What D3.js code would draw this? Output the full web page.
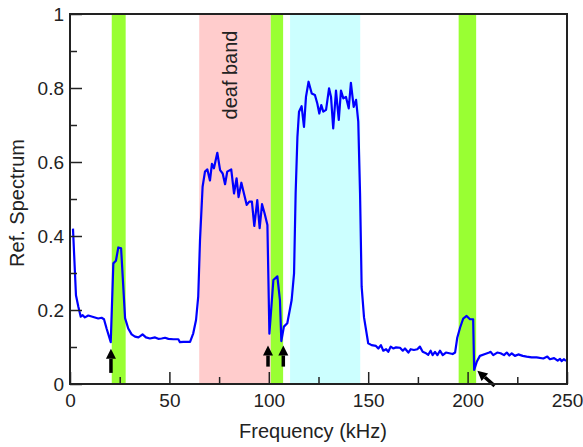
<!DOCTYPE html>
<html>
<head>
<meta charset="utf-8">
<script src="https://cdn.jsdelivr.net/npm/d3@7"></script>
<style>
  body { margin: 0; background: #fff; }
  text { font-family: "Liberation Sans", Arial, Helvetica, sans-serif; fill: #222; }
</style>
</head>
<body>
<div id="chart"></div>
<script>
// spectrum: [frequency kHz, ref. spectrum]
const spectrum = [
  [1.5,0.42],[3,0.24],[4.2,0.209],[5.4,0.182],[6.4,0.186],[7.5,0.18],[9.2,0.185],[11.7,0.181],
  [14.2,0.177],[15.9,0.179],[17.1,0.175],[18.4,0.15],[20.5,0.113],[21.8,0.326],[23.1,0.333],
  [24.3,0.369],[25.7,0.367],[27.7,0.178],[29.3,0.15],[31,0.134],[32.7,0.128],[34.4,0.126],
  [35.5,0.13],[36.5,0.134],[38.2,0.126],[40.2,0.123],[42.8,0.126],[44.4,0.122],[46.1,0.123],
  [47.8,0.125],[49.5,0.122],[52,0.121],[54.5,0.121],[55.3,0.113],[57,0.114],[60.4,0.114],
  [62,0.137],[63.4,0.173],[64.5,0.236],[65.4,0.389],[66.7,0.533],[67.9,0.574],[69.1,0.58],
  [70.4,0.55],[71.4,0.595],[72.4,0.583],[74.1,0.625],[75.5,0.578],[76.8,0.569],[78,0.54],
  [79.1,0.574],[81.1,0.58],[82.5,0.515],[83.8,0.556],[84.8,0.505],[86.2,0.544],[87.5,0.515],
  [88.9,0.484],[90.2,0.493],[91.5,0.493],[92.7,0.427],[94.2,0.497],[95.4,0.421],[96.6,0.486],
  [97.9,0.461],[99.3,0.43],[100.3,0.136],[102.3,0.281],[104.3,0.291],[105.6,0.227],[106.3,0.116],
  [107.6,0.155],[109.3,0.164],[111.5,0.227],[112.7,0.299],[113.5,0.515],[114.4,0.668],
  [115.2,0.736],[116.5,0.751],[117.7,0.695],[118.7,0.776],[120,0.817],[121.6,0.785],
  [123.2,0.781],[124.4,0.758],[125.4,0.731],[126.4,0.754],[127.4,0.736],[128.8,0.741],
  [130.3,0.799],[131.3,0.776],[132.4,0.691],[133.8,0.793],[135.2,0.714],[136.3,0.793],
  [137.5,0.772],[138.8,0.776],[140.2,0.745],[141.3,0.814],[142.7,0.749],[143.9,0.768],
  [145,0.709],[145.9,0.515],[146.7,0.263],[147.9,0.18],[150,0.11],[151.7,0.105],[153.9,0.103],
  [155.1,0.096],[156.4,0.105],[157.6,0.09],[159,0.094],[160.1,0.087],[161.3,0.101],[162.6,0.096],
  [164,0.099],[166,0.098],[167.4,0.09],[168.5,0.096],[170.2,0.085],[171.4,0.094],[173,0.092],
  [174.7,0.094],[176,0.101],[177.4,0.087],[179.1,0.083],[180.2,0.079],[181.4,0.09],[182.4,0.078],
  [183.6,0.087],[184.8,0.078],[186.1,0.09],[187.5,0.078],[189.1,0.085],[190.8,0.083],
  [192.5,0.081],[193.7,0.085],[194.8,0.125],[196.2,0.152],[197.8,0.177],[199.5,0.184],
  [201.2,0.175],[202.8,0.175],[203.3,0.038],[204.6,0.06],[206.2,0.076],[208.8,0.081],
  [210.9,0.085],[211.6,0.087],[212.9,0.078],[214.9,0.085],[216.6,0.083],[218.3,0.078],
  [219.7,0.085],[221,0.077],[222.2,0.083],[223.8,0.076],[225.5,0.08],[227.7,0.076],
  [229.7,0.074],[232.2,0.072],[234.7,0.072],[238.1,0.069],[240.1,0.074],[241.4,0.067],
  [243.5,0.07],[245.3,0.063],[246.5,0.068],[247.3,0.062],[248.5,0.067],[249.5,0.062]
];

// shaded bands: [from kHz, to kHz, colour]
const bands = [
  [65, 101, "#ffcccc"],
  [110.7, 146, "#ccffff"],
  [21, 28, "#99ff33"],
  [101, 107.2, "#99ff33"],
  [195.5, 204.3, "#99ff33"]
];

// arrows: [tail kHz, tail value, tip kHz, tip value]
const arrows = [
  [20.6, 0.030, 20.6, 0.095],
  [99.6, 0.047, 99.6, 0.104],
  [107.3, 0.047, 107.3, 0.104],
  [213.6, -0.005, 204.9, 0.036]
];

const xMajor = [0, 50, 100, 150, 200, 250];
const xMinor = [25, 75, 125, 175, 225];
const yMajor = [0, 0.2, 0.4, 0.6, 0.8, 1];
const yMinor = [0.1, 0.3, 0.5, 0.7, 0.9];

const width = 583, height = 447;
const margin = { top: 14, right: 16, bottom: 63, left: 70 };
const graphWidth = width - margin.left - margin.right;
const graphHeight = height - margin.top - margin.bottom;

const svg = d3.select("#chart").append("svg")
    .attr("width", width)
    .attr("height", height);

const graph = svg.append("g")
    .attr("transform", `translate(${margin.left},${margin.top})`);

const x = d3.scaleLinear().domain([0, 250]).range([0, graphWidth]);
const y = d3.scaleLinear().domain([0, 1]).range([graphHeight, 0]);

// Bands
graph.selectAll(".band")
    .data(bands)
    .enter().append("rect")
    .attr("class", "band")
    .attr("x", d => x(d[0]))
    .attr("y", 1)
    .attr("width", d => x(d[1]) - x(d[0]))
    .attr("height", graphHeight - 1)
    .attr("fill", d => d[2]);

// deaf band label
graph.append("text")
    .attr("transform", `translate(${x(83.8) + 0.5},${61}) rotate(-90)`)
    .attr("text-anchor", "middle")
    .style("font-size", "20px")
    .text("deaf band");

// Spectrum line
const line = d3.line()
    .x(d => x(d[0]))
    .y(d => y(d[1]));

graph.append("path")
    .datum(spectrum)
    .attr("fill", "none")
    .attr("stroke", "#0000ff")
    .attr("stroke-width", 2.2)
    .attr("stroke-linejoin", "round")
    .attr("d", line);

// Arrows
arrows.forEach(a => {
    const x1 = x(a[0]), y1 = y(a[1]), x2 = x(a[2]), y2 = y(a[3]);
    const ang = Math.atan2(y2 - y1, x2 - x1);
    const hl = 10, hw = 5;
    const bx = x2 - hl * Math.cos(ang), by = y2 - hl * Math.sin(ang);
    graph.append("line")
        .attr("x1", x1).attr("y1", y1)
        .attr("x2", bx).attr("y2", by)
        .attr("stroke", "#000")
        .attr("stroke-width", 3.5);
    const px = -Math.sin(ang) * hw, py = Math.cos(ang) * hw;
    graph.append("polygon")
        .attr("points", `${x2},${y2} ${bx + px},${by + py} ${bx - px},${by - py}`)
        .attr("fill", "#000");
});

// Axes
const fmt = d => d3.format("~g")(d);

const xAxis = graph.append("g")
    .attr("transform", `translate(0,${graphHeight})`)
    .call(d3.axisBottom(x).tickValues(xMajor).tickFormat(fmt).tickSizeInner(-12).tickSizeOuter(0).tickPadding(10));
const xMinorAxis = graph.append("g")
    .attr("transform", `translate(0,${graphHeight})`)
    .call(d3.axisBottom(x).tickValues(xMinor).tickFormat("").tickSizeInner(-7).tickSizeOuter(0));

const yAxis = graph.append("g")
    .call(d3.axisLeft(y).tickValues(yMajor).tickFormat(fmt).tickSizeInner(-12).tickSizeOuter(0).tickPadding(6));
const yMinorAxis = graph.append("g")
    .call(d3.axisLeft(y).tickValues(yMinor).tickFormat("").tickSizeInner(-7).tickSizeOuter(0));

[xAxis, xMinorAxis, yAxis, yMinorAxis].forEach(g => {
    g.select(".domain").remove();
    g.selectAll(".tick line").attr("stroke", "#222").attr("stroke-width", 1.5);
    g.selectAll("text").style("font-size", "19px").attr("fill", "#222");
});

// Frame
graph.append("rect")
    .attr("width", graphWidth)
    .attr("height", graphHeight)
    .attr("fill", "none")
    .attr("stroke", "#222")
    .attr("stroke-width", 2);

// X-axis label
svg.append("text")
    .attr("x", 313)
    .attr("y", 438)
    .attr("text-anchor", "middle")
    .style("font-size", "20px")
    .text("Frequency (kHz)");

// Y-axis label
svg.append("text")
    .attr("transform", "translate(24,203) rotate(-90)")
    .attr("text-anchor", "middle")
    .style("font-size", "20px")
    .text("Ref. Spectrum");
</script>
</body>
</html>
